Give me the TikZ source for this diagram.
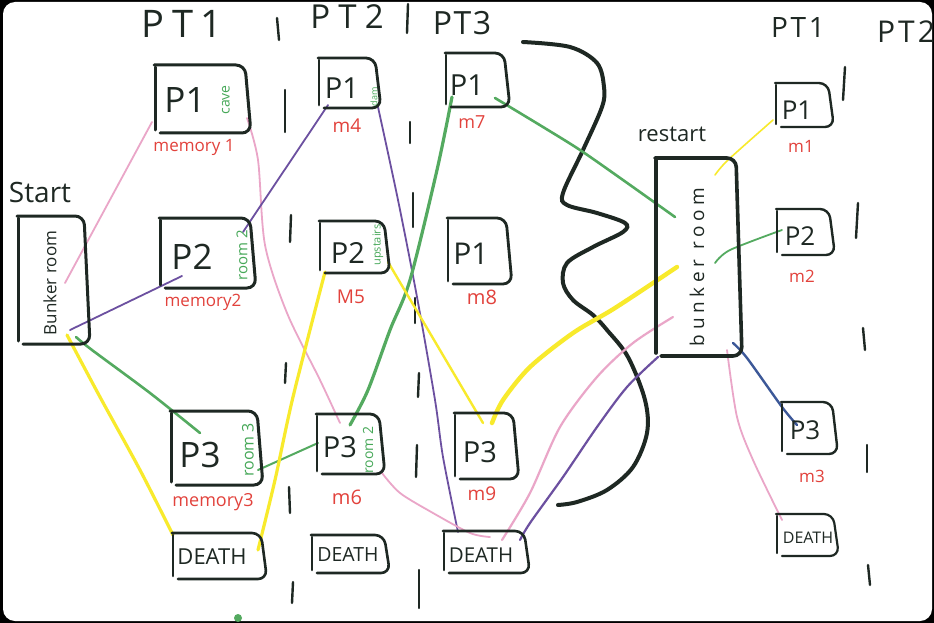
\documentclass[tikz,border=0pt]{standalone}
\usepackage{fontspec}
\setmainfont{Open Sans}
\usetikzlibrary{calc}
\definecolor{ink}{RGB}{30,40,35}
\definecolor{pinkc}{RGB}{234,166,200}
\definecolor{purplec}{RGB}{108,80,160}
\definecolor{greenc}{RGB}{84,170,96}
\definecolor{yellowc}{RGB}{248,234,44}
\definecolor{bluec}{RGB}{60,88,152}
\definecolor{redtxt}{RGB}{226,66,60}
\definecolor{greentxt}{RGB}{70,168,88}
\newcommand{\fs}[1]{\fontsize{#1}{#1}\selectfont}
\newcommand{\sketchbox}[2][2.6pt]{%
  \draw[boxline,line width=#1] ($(#2.north west)+(0,2)$) -- ($(#2.south west)+(0,-3)$);
  \draw[boxline,line width=#1,rounded corners=9pt] ($(#2.north west)+(-1,0)$) -- ($(#2.north east)+(-6,0)$) -- (#2.south east) -- ($(#2.south west)+(5,0)$);
}
\tikzset{
  boxnode/.style={inner sep=0pt,outer sep=0pt},
  boxline/.style={ink,line cap=round,line join=round},
  txt/.style={inner sep=0pt,text=ink},
  redlab/.style={inner sep=0pt,text=redtxt},
  greenlab/.style={inner sep=0pt,text=greentxt,rotate=90},
  tickmark/.style={ink,line width=2.4pt,line cap=round},
  conn/.style={line cap=round,line join=round},
  pinkline/.style={conn,pinkc,line width=1.8pt},
  purpleline/.style={conn,purplec,line width=1.8pt},
  greenline/.style={conn,greenc,line width=2.6pt},
  yellowline/.style={conn,yellowc,line width=3.2pt},
  blueline/.style={conn,bluec,line width=2.4pt},
}
\begin{document}
\begin{tikzpicture}[x=1pt,y=-1pt]
\useasboundingbox (0,0) rectangle (934,623);
\fill[black] (0,0) rectangle (934,623);
\fill[white,rounded corners=12pt] (3,2) rectangle (932,621);

% headers
\node[txt,font=\fs{38}\addfontfeature{LetterSpace=20}] (h1) at (182,24) {PT1};
\node[txt,font=\fs{33}\addfontfeature{LetterSpace=25}] (h2) at (347,17) {PT2};
\node[txt,font=\fs{32}\addfontfeature{LetterSpace=5}] (h3) at (462,23) {PT3};
\node[txt,font=\fs{28}\addfontfeature{LetterSpace=10}] (h4) at (798,28) {PT1};
\node[txt,font=\fs{30}\addfontfeature{LetterSpace=10}] (h5) at (906,32) {PT2};

% separator ticks
\draw[tickmark] (277,18) -- (279,40);
\draw[tickmark] (408,4) -- (407,33);
\draw[tickmark] (285,90) -- (285,132);
\draw[tickmark] (410,122) -- (410,143);
\draw[tickmark] (291,215) -- (290,242);
\draw[tickmark] (413,193) -- (413,227);
\draw[tickmark] (415,298) -- (415,323);
\draw[tickmark] (286,363) -- (285,383);
\draw[tickmark] (419,373) -- (418,397);
\draw[tickmark] (289,487) -- (290,513);
\draw[tickmark] (417,445) -- (416,477);
\draw[tickmark] (293,582) -- (292,603);
\draw[tickmark] (419,570) -- (419,608);
\draw[tickmark] (845,67) -- (843,100);
\draw[tickmark] (858,203) -- (856,238);
\draw[tickmark] (863,328) -- (865,350);
\draw[tickmark] (867,445) -- (867,472);
\draw[tickmark] (868,565) -- (870,585);

% big wavy divider
\draw[ink,line width=4pt,line cap=round] plot[smooth,tension=0.55] coordinates {(523,42) (570,47) (597,63) (604,87) (602,107) (583,150) (563,193) (567,205) (597,213) (625,223) (623,232) (593,247) (567,263) (563,283) (573,300) (593,315) (607,330) (628,357) (645,400) (647,433) (633,467) (607,490) (577,502) (558,505)};

% box nodes
\node[boxnode,minimum width=72pt,minimum height=128pt] (start) at (54,280) {};
\node[boxnode,minimum width=96pt,minimum height=68pt] (p1a) at (203,99) {};
\node[boxnode,minimum width=96pt,minimum height=70pt] (p2a) at (208,253) {};
\node[boxnode,minimum width=92pt,minimum height=74pt] (p3a) at (217,448) {};
\node[boxnode,minimum width=94pt,minimum height=46pt] (da) at (220,556) {};
\node[boxnode,minimum width=62pt,minimum height=50pt] (p1b) at (350,83) {};
\node[boxnode,minimum width=70pt,minimum height=52pt] (p2b) at (355,247) {};
\node[boxnode,minimum width=68pt,minimum height=60pt] (p3b) at (351,444) {};
\node[boxnode,minimum width=78pt,minimum height=38pt] (db) at (351,554) {};
\node[boxnode,minimum width=64pt,minimum height=54pt] (p1c) at (478,80) {};
\node[boxnode,minimum width=64pt,minimum height=66pt] (p1d) at (480,251) {};
\node[boxnode,minimum width=64pt,minimum height=66pt] (p3c) at (487,446) {};
\node[boxnode,minimum width=86pt,minimum height=42pt] (dc) at (487,552) {};
\node[boxnode,minimum width=86pt,minimum height=198pt] (restart) at (699,257) {};
\node[boxnode,minimum width=58pt,minimum height=44pt] (q1) at (805,105) {};
\node[boxnode,minimum width=58pt,minimum height=46pt] (q2) at (806,232) {};
\node[boxnode,minimum width=56pt,minimum height=52pt] (q3) at (810,428) {};
\node[boxnode,minimum width=62pt,minimum height=42pt] (dq) at (808,535) {};

% connectors
\draw[pinkline] ($(start)+(11,3)$) -- ($(p1a)+(-51,23)$);
\draw[purpleline] ($(start)+(16,50)$) -- ($(p2a)+(-26,23)$);
\draw[greenline] plot[smooth] coordinates {($(start)+(22,57)$) (92,350) (150,393) ($(p3a)+(-17,-15)$)};
\draw[yellowline] plot[smooth] coordinates {($(start)+(13,55)$) (100,397) (140,470) ($(da)+(-47,-21)$)};
\draw[pinkline] plot[smooth] coordinates {($(p1a)+(44,19)$) (258,160) (265,245) (287,313) (320,380) ($(p3b)+(-11,-21)$)};
\draw[purpleline] ($(p2a)+(35,-21)$) -- ($(p1b)+(-22,22)$);
\draw[purpleline] plot[smooth] coordinates {($(p1b)+(28,24)$) (398,200) (417,297) (435,400) (443,457) ($(dc)+(-29,-20)$)};
\draw[greenline,line width=3.2pt] plot[smooth] coordinates {($(p1c)+(-26,17)$) (437,170) (410,280) (390,330) (368,390) ($(p3b)+(-1,-19)$)};
\draw[greenline] plot[smooth] coordinates {($(p1c)+(17,18)$) (543,127) (580,150) (623,180) ($(restart)+(-24,-40)$)};
\draw[greenline,line width=2pt] ($(p3a)+(41,22)$) -- ($(p3b)+(-33,-1)$);
\draw[yellowline] plot[smooth] coordinates {($(p2b)+(-30,25)$) (293,397) (275,480) ($(da)+(38,-6)$)};
\draw[yellowline,line width=2.4pt] ($(p2b)+(33,15)$) -- ($(p3c)+(-4,-23)$);
\draw[yellowline,line width=4.4pt] plot[smooth] coordinates {($(p3c)+(5,-23)$) (503,400) (530,367) (573,333) (615,308) ($(restart)+(-22,10)$)};
\draw[pinkline,line width=2.2pt] plot[smooth] coordinates {($(dc)+(15,-12)$) (530,493) (560,427) (597,377) (633,343) ($(restart)+(-26,60)$)};
\draw[purpleline,line width=2.2pt] plot[smooth] coordinates {($(dc)+(33,-12)$) (530,523) (563,477) (597,427) (627,387) ($(restart)+(-41,100)$)};
\draw[pinkline] plot[smooth] coordinates {($(p3b)+(31,29)$) (400,493) (433,513) (470,533) ($(dc)+(3,-15)$)};
\draw[yellowline,line width=1.6pt] plot[smooth] coordinates {($(restart)+(16,-82)$) (728,160) ($(q1)+(-32,15)$)};
\draw[greenline,line width=1.8pt] plot[smooth] coordinates {($(restart)+(16,6)$) (730,250) ($(q2)+(-24,-2)$)};
\draw[blueline] plot[smooth] coordinates {($(restart)+(34,86)$) (747,358) (782,407) ($(q3)+(-13,-3)$)};
\draw[pinkline] plot[smooth] coordinates {($(restart)+(28,93)$) (737,417) (753,460) ($(dq)+(-26,-15)$)};

% box outlines
\sketchbox[3pt]{start}
\sketchbox[3pt]{p1a}
\sketchbox[3pt]{p2a}
\sketchbox[3pt]{p3a}
\sketchbox{da}
\sketchbox[2.8pt]{p1b}
\sketchbox[2.8pt]{p2b}
\sketchbox[2.8pt]{p3b}
\sketchbox{db}
\sketchbox[2.8pt]{p1c}
\sketchbox[2.8pt]{p1d}
\sketchbox[2.8pt]{p3c}
\sketchbox{dc}
\sketchbox[3.6pt]{restart}
\sketchbox[2.4pt]{q1}
\sketchbox[2.4pt]{q2}
\sketchbox[2.4pt]{q3}
\sketchbox[2.2pt]{dq}

% labels outside boxes
\node[txt,font=\fs{28}] (startlab) at (40,192) {Start};
\node[txt,font=\fs{22}] (restartlab) at (672,134) {restart};
\node[txt,font=\fs{17},rotate=90] (start-t) at (50,283) {Bunker room};
\node[txt,font=\fs{19}\addfontfeature{LetterSpace=25},rotate=90] (restart-t) at (697,267) {bunker room};

% box texts
\node[txt,font=\fs{35}] (p1a-t) at (185,100) {P1};
\node[txt,font=\fs{35}] (p2a-t) at (192,257) {P2};
\node[txt,font=\fs{35}] (p3a-t) at (200,455) {P3};
\node[txt,font=\fs{22}] (da-t) at (212,557) {DEATH};
\node[txt,font=\fs{29}] (p1b-t) at (342,88) {P1};
\node[txt,font=\fs{29}] (p2b-t) at (348,253) {P2};
\node[txt,font=\fs{29}] (p3b-t) at (340,447) {P3};
\node[txt,font=\fs{19.5}] (db-t) at (348,555) {DEATH};
\node[txt,font=\fs{29}] (p1c-t) at (467,85) {P1};
\node[txt,font=\fs{30}] (p1d-t) at (471,254) {P1};
\node[txt,font=\fs{29}] (p3c-t) at (480,452) {P3};
\node[txt,font=\fs{20.5}] (dc-t) at (481,555) {DEATH};
\node[txt,font=\fs{26}] (q1-t) at (797,110) {P1};
\node[txt,font=\fs{26}] (q2-t) at (800,236) {P2};
\node[txt,font=\fs{26}] (q3-t) at (805,430) {P3};
\node[txt,font=\fs{16}] (dq-t) at (808,538) {DEATH};

% green room labels
\node[greenlab,font=\fs{14}] (p1a-g) at (226,100) {cave};
\node[greenlab,font=\fs{15}] (p2a-g) at (242,255) {room 2};
\node[greenlab,font=\fs{16}] (p3a-g) at (248,450) {room 3};
\node[greenlab,font=\fs{9}] (p1b-g) at (374,97) {dam};
\node[greenlab,font=\fs{11}] (p2b-g) at (378,245) {upstairs};
\node[greenlab,font=\fs{14}] (p3b-g) at (368,450) {room 2};

% red memory labels
\node[redlab,font=\fs{17}] (p1a-r) at (194,147) {memory 1};
\node[redlab,font=\fs{17}] (p2a-r) at (203,302) {memory2};
\node[redlab,font=\fs{18}] (p3a-r) at (213,502) {memory3};
\node[redlab,font=\fs{19}] (p1b-r) at (347,126) {m4};
\node[redlab,font=\fs{19}] (p2b-r) at (351,297) {M5};
\node[redlab,font=\fs{20}] (p3b-r) at (347,497) {m6};
\node[redlab,font=\fs{18}] (p1c-r) at (472,122) {m7};
\node[redlab,font=\fs{20}] (p1d-r) at (482,297) {m8};
\node[redlab,font=\fs{19}] (p3c-r) at (482,494) {m9};
\node[redlab,font=\fs{17}] (q1-r) at (801,146) {m1};
\node[redlab,font=\fs{17}] (q2-r) at (802,276) {m2};
\node[redlab,font=\fs{17}] (q3-r) at (812,476) {m3};

% stray dot
\fill[greenc] (238,618) circle (4pt);
\end{tikzpicture}
\end{document}
